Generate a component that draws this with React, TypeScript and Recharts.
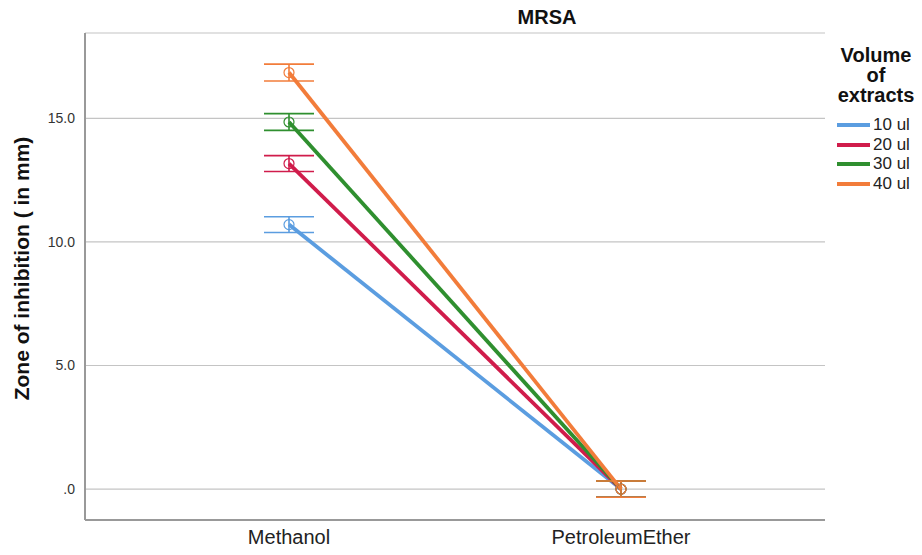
import React from 'react';
import { LineChart, Line, XAxis, YAxis, CartesianGrid, ErrorBar } from 'recharts';

const categories = ['Methanol', 'PetroleumEther'];
const series = ['10 ul', '20 ul', '30 ul', '40 ul'];
const colors = ['#5b9de0', '#d01c4b', '#2f8f2f', '#f27c3a'];
const means = [
  [10.7, 0],
  [13.17, 0],
  [14.85, 0],
  [16.85, 0],
];
const errors = [
  [0.32, 0.33],
  [0.32, 0.33],
  [0.34, 0.33],
  [0.34, 0.33],
];
const yTicks = [0, 5, 10, 15];

const data = categories.map((c, i) => {
  const row: any = { cat: c };
  series.forEach((s, j) => {
    row['v' + j] = means[j][i];
    row['e' + j] = errors[j][i];
  });
  return row;
});

const font = '"Liberation Sans", Arial, sans-serif';

export default function App() {
  return (
    <div style={{ position: 'absolute', left: 0, top: 0, width: 922, height: 555, background: '#fff' }}>
      <LineChart width={922} height={555} data={data} margin={{ top: 33, right: 97, bottom: 5, left: 25 }}>
        <CartesianGrid horizontal vertical={false} stroke="#c4c4c4" strokeWidth={1.2} />
        <XAxis
          dataKey="cat"
          padding={{ left: 204, right: 204 }}
          height={30}
          tickLine={false}
          axisLine={{ stroke: '#999', strokeWidth: 2 }}
          tick={{ fontSize: 20, fill: '#222', fontFamily: font }}
          tickMargin={4}
        />
        <YAxis
          width={60}
          domain={[-1.25, 18.45]}
          ticks={yTicks}
          allowDataOverflow
          tickLine={false}
          axisLine={{ stroke: '#999', strokeWidth: 2 }}
          tick={{ fontSize: 14, fill: '#333', fontFamily: font }}
          tickMargin={4}
          tickFormatter={(v: number) => (v === 0 ? '.0' : v.toFixed(1))}
          label={{
            value: 'Zone of inhibition ( in mm)',
            angle: -90,
            position: 'insideLeft',
            offset: -3,
            dy: -8,
            style: { textAnchor: 'middle', fontSize: 21, fontWeight: 'bold', fill: '#111', fontFamily: font },
          }}
        />
        {series.map((s, j) => (
          <Line
            key={s}
            name={s}
            dataKey={'v' + j}
            stroke={colors[j]}
            strokeWidth={3.8}
            isAnimationActive={false}
            dot={{ r: 5, fill: 'none', stroke: colors[j], strokeWidth: 1.2 }}
            activeDot={false}
          >
            <ErrorBar dataKey={'e' + j} width={25} stroke={colors[j]} strokeWidth={1.6} direction="y" />
          </Line>
        ))}
      </LineChart>
      <div style={{ position: 'absolute', left: 447, width: 200, top: 6, textAlign: 'center', fontFamily: font, fontWeight: 'bold', fontSize: 20, color: '#111' }}>
        MRSA
      </div>
      <div style={{ position: 'absolute', left: 830, top: 45, width: 92, fontFamily: font }}>
        <div style={{ fontWeight: 'bold', fontSize: 20, textAlign: 'center', lineHeight: '20px', color: '#111' }}>
          Volume<br />of<br />extracts
        </div>
        <div style={{ position: 'absolute', top: 70, left: 7 }}>
          {series.map((s, i) => (
            <div key={s} style={{ display: 'flex', alignItems: 'center', height: 19.7 }}>
              <div style={{ width: 33, height: 4, background: colors[i], marginRight: 3 }} />
              <span style={{ fontSize: 17, color: '#222' }}>{s}</span>
            </div>
          ))}
        </div>
      </div>
    </div>
  );
}
